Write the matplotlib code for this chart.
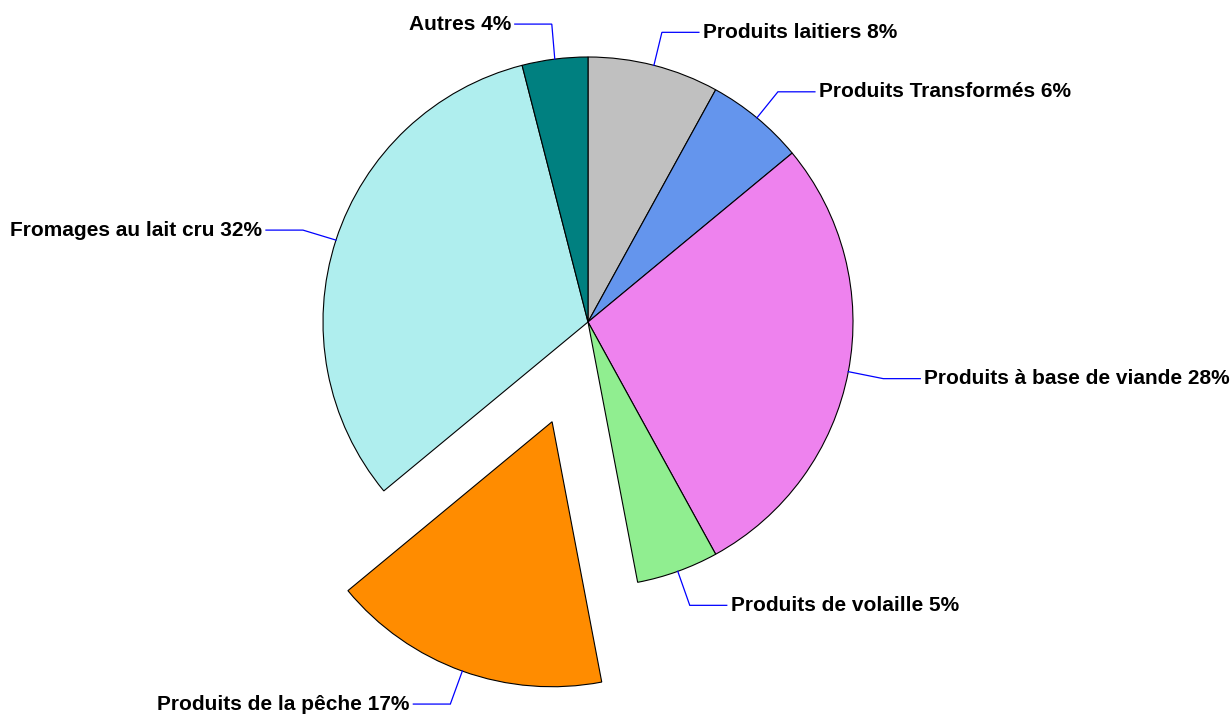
import numpy as np
import matplotlib.pyplot as plt

# Repartition des produits (en %), sens horaire depuis midi
categories = ["Produits laitiers", "Produits Transformés", "Produits à base de viande",
              "Produits de volaille", "Produits de la pêche", "Fromages au lait cru", "Autres"]
shares = [8, 6, 28, 5, 17, 32, 4]
colors = ["#C0C0C0", "#6495ED", "#EE82EE", "#90EE90", "#FF8C00", "#AFEEEE", "#008080"]
explode = [0, 0, 0, 0, 0.4, 0, 0]   # fraction du rayon

# coude de chaque trait de rappel, en pixels par rapport au bord de la part
elbows = [(8, 33), (21, 26), (35, -7), (12, -34), (-12, -33), (-33, 10), (-3, 35)]

W, H = 1231, 715
fig = plt.figure(figsize=(W / 100, H / 100), dpi=100)
ax = fig.add_axes([0, 0, 1, 1])

cx, cy, r = 588, H - 322, 265
# pie() decale les parts en unites de donnees, pas en fraction du rayon
wedges, _ = ax.pie(shares, colors=colors, explode=[e * r for e in explode], startangle=90,
                   counterclock=False, center=(cx, cy), radius=r, frame=True,
                   wedgeprops=dict(edgecolor="black", linewidth=0.8))
ax.set_xlim(0, W)
ax.set_ylim(0, H)
ax.axis("off")

for w, name, val, (dx, dy) in zip(wedges, categories, shares, elbows):
    mid = np.deg2rad((w.theta1 + w.theta2) / 2)
    x0 = w.center[0] + r * np.cos(mid)
    y0 = w.center[1] + r * np.sin(mid)
    x1, y1 = x0 + dx, y0 + dy
    side = 1 if np.cos(mid) > 0 else -1
    x2 = x1 + side * 37
    ax.plot([x0, x1, x2], [y0, y1, y1], color="#0000FF", lw=0.9, solid_joinstyle="miter")
    ax.text(x2 + side * 4, y1, f"{name} {val}%", ha="left" if side > 0 else "right", va="center",
            fontsize=15, fontweight="bold", family="Liberation Sans", color="black")

fig.savefig("out.png", dpi=100)
